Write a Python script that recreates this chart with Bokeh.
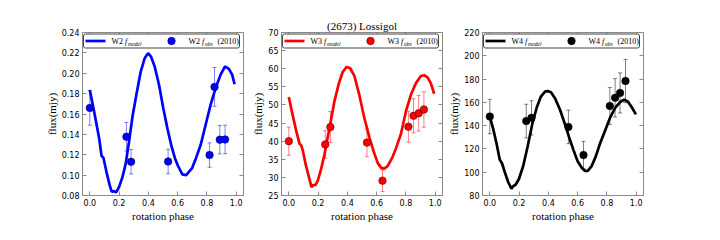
from bokeh.plotting import figure
from bokeh.layouts import row
from bokeh.models import (FixedTicker, PrintfTickFormatter, LinearAxis, Whisker, TeeHead,
                          ColumnDataSource, BoxAnnotation, Label, Range1d)
from bokeh.embed import file_html
from bokeh.resources import INLINE

# ---------------- data ----------------
phase_ticks = [0.0, 0.2, 0.4, 0.6, 0.8, 1.0]
title_text = "(2673) Lossigol"

# W2
w2_model_phase = [0.0, 0.03, 0.064, 0.08, 0.093, 0.114, 0.136, 0.15, 0.166, 0.18, 0.2, 0.223, 0.245,
                  0.268, 0.29, 0.318, 0.348, 0.375, 0.398, 0.418, 0.443, 0.473, 0.502, 0.53, 0.559,
                  0.582, 0.602, 0.632, 0.659, 0.677, 0.7, 0.727, 0.757, 0.791, 0.825, 0.859, 0.893,
                  0.923, 0.95, 0.973, 0.989]
w2_model_flux = [0.1836, 0.162, 0.136, 0.119, 0.117, 0.103, 0.090, 0.0836, 0.0843, 0.083, 0.0885,
                 0.098, 0.111, 0.133, 0.156, 0.179, 0.2016, 0.2148, 0.2197, 0.2164, 0.2066, 0.1885,
                 0.1656, 0.1459, 0.1279, 0.1164, 0.1092, 0.1007, 0.100, 0.1033, 0.1072, 0.1174,
                 0.1295, 0.1492, 0.1689, 0.1852, 0.1984, 0.2066, 0.2043, 0.1984, 0.1892]
w2_obs_phase = [0.0, 0.25, 0.282, 0.535, 0.818, 0.852, 0.888, 0.924]
w2_obs_flux = [0.166, 0.1377, 0.1131, 0.1134, 0.1197, 0.1866, 0.1348, 0.135]
w2_obs_err = [0.017, 0.014, 0.012, 0.012, 0.012, 0.019, 0.014, 0.014]
w2_yticks = [0.08, 0.10, 0.12, 0.14, 0.16, 0.18, 0.20, 0.22, 0.24]

# W3
w3_model_phase = [0.0, 0.023, 0.05, 0.073, 0.084, 0.095, 0.118, 0.141, 0.155, 0.168, 0.182, 0.198,
                  0.22, 0.243, 0.266, 0.289, 0.311, 0.341, 0.368, 0.395, 0.418, 0.448, 0.482, 0.516,
                  0.55, 0.58, 0.607, 0.63, 0.652, 0.675, 0.705, 0.732, 0.766, 0.8, 0.834, 0.868,
                  0.902, 0.925, 0.948, 0.97, 0.993]
w3_model_flux = [52.2, 47.8, 42.9, 39.3, 38.9, 37.5, 33.1, 29.5, 27.3, 27.9, 27.9, 29.1, 32.2, 36.2,
                 41.1, 46.0, 50.9, 55.8, 59.1, 60.5, 60.2, 58.0, 52.7, 46.4, 41.1, 37.1, 34.0, 32.7,
                 32.4, 33.1, 35.3, 38.0, 42.0, 48.2, 52.8, 56.0, 58.0, 58.2, 57.6, 56.0, 53.1]
w3_obs_phase = [0.0, 0.249, 0.284, 0.534, 0.640, 0.817, 0.852, 0.887, 0.923]
w3_obs_flux = [40.0, 39.1, 43.9, 39.6, 29.1, 44.0, 47.0, 47.7, 48.75]
w3_obs_err = [3.9, 3.8, 4.3, 3.9, 3.0, 4.3, 4.7, 4.9, 4.9]
w3_yticks = [25, 30, 35, 40, 45, 50, 55, 60, 65, 70]

# W4
w4_model_phase = [0.0, 0.023, 0.046, 0.068, 0.084, 0.103, 0.126, 0.148, 0.16, 0.176, 0.199, 0.228,
                  0.258, 0.29, 0.32, 0.349, 0.377, 0.395, 0.418, 0.445, 0.479, 0.509, 0.541, 0.571,
                  0.6, 0.628, 0.651, 0.669, 0.696, 0.724, 0.753, 0.788, 0.822, 0.856, 0.89, 0.918,
                  0.943, 0.97, 0.998]
w4_model_flux = [147.8, 137.2, 124.7, 110.8, 107.5, 99.7, 91.4, 85.8, 88.1, 89.2, 94.2, 105.3,
                 121.9, 141.4, 155.3, 165.0, 169.2, 169.7, 168.6, 163.6, 153.9, 142.8, 130.3,
                 119.2, 109.4, 103.9, 101.1, 101.1, 105.3, 113.6, 124.7, 135.8, 146.9, 155.3,
                 160.3, 162.2, 160.8, 155.8, 149.7]
w4_obs_phase = [0.0, 0.249, 0.285, 0.537, 0.640, 0.820, 0.856, 0.890, 0.927]
w4_obs_flux = [147.8, 143.9, 146.7, 138.9, 114.7, 156.9, 163.9, 168.1, 178.3]
w4_obs_err = [14.8, 14.5, 14.7, 14.4, 11.8, 15.8, 16.5, 17.2, 18.6]
w4_yticks = [80, 100, 120, 140, 160, 180, 200, 220]

# ---------------- layout / style ----------------
X_RANGE = (-0.05, 1.05)
FRAME_W, FRAME_H = 161, 163
AX_COLOR = "#8a8a8a"
SERIF = "Liberation Serif"
SANS = "DejaVu Sans"


def style_axis(ax, ticks, fmt, show_labels=True):
    ax.ticker = FixedTicker(ticks=ticks)
    ax.formatter = PrintfTickFormatter(format=fmt)
    ax.major_tick_in = 4
    ax.major_tick_out = 0
    ax.minor_tick_in = 0
    ax.minor_tick_out = 0
    ax.axis_line_color = AX_COLOR
    ax.major_tick_line_color = AX_COLOR
    ax.major_label_text_font = SANS
    ax.major_label_text_color = "black"
    if show_labels:
        ax.major_label_text_font_size = "8px"
        ax.major_label_standoff = 3
    else:
        ax.major_label_text_font_size = "0px"
        ax.major_label_text_alpha = 0
        ax.major_label_standoff = 0
    ax.axis_label_text_font = SERIF
    ax.axis_label_text_font_size = "11px"
    ax.axis_label_text_font_style = "normal"
    ax.axis_label_text_color = "black"
    ax.axis_label_standoff = 1


def make_panel(band, color, edge, mx, my, ox, oy, oerr, yticks, yfmt, bl, br, title=None):
    yr = (yticks[0], yticks[-1])
    p = figure(frame_width=FRAME_W, frame_height=FRAME_H,
               x_range=Range1d(*X_RANGE), y_range=Range1d(*yr),
               output_backend="svg", toolbar_location=None,
               min_border_left=bl, min_border_right=br, min_border_top=32, min_border_bottom=29,
               x_axis_label="rotation phase", y_axis_label="flux(mjy)")
    p.grid.visible = False
    p.outline_line_color = AX_COLOR
    p.background_fill_color = "white"
    p.border_fill_color = "white"
    style_axis(p.xaxis[0], phase_ticks, "%.1f")
    style_axis(p.yaxis[0], yticks, yfmt)
    top = LinearAxis()
    style_axis(top, phase_ticks, "%.1f", show_labels=False)
    if title:
        top.axis_label = title
        top.axis_label_standoff = 1
    p.add_layout(top, "above")
    right = LinearAxis()
    style_axis(right, yticks, yfmt, show_labels=False)
    p.add_layout(right, "right")

    x0, x1 = X_RANGE
    y0, y1 = yr

    # model curve
    p.line(mx, my, line_color=color, line_width=2.7)

    # observations with error bars
    src = ColumnDataSource(dict(x=ox, y=oy,
                                upper=[v + e for v, e in zip(oy, oerr)],
                                lower=[v - e for v, e in zip(oy, oerr)]))
    p.add_layout(Whisker(source=src, base="x", upper="upper", lower="lower",
                         line_color=color, line_alpha=0.5, line_width=1,
                         upper_head=TeeHead(size=4, line_color=color, line_alpha=0.5, line_width=1),
                         lower_head=TeeHead(size=4, line_color=color, line_alpha=0.5, line_width=1)))
    p.scatter("x", "y", source=src, size=7.5, fill_color=color, line_color=edge, line_width=0.6)

    # legend (positions derived from frame pixel layout)
    sx = (x1 - x0) / FRAME_W
    sy = (y1 - y0) / FRAME_H

    def X(px):
        return x0 + px * sx

    def Y(py):
        return y1 - py * sy

    p.add_layout(BoxAnnotation(left=X(1), right=X(157), top=Y(1.5), bottom=Y(15.5),
                               fill_color="white", fill_alpha=1, line_color="#444444",
                               line_alpha=1, line_width=1, border_radius=2))
    cy = 8.5
    p.line([X(3), X(23)], [Y(cy), Y(cy)], line_color=color, line_width=2.7, level="overlay")
    p.segment([X(89)], [Y(cy - 4)], [X(89)], [Y(cy + 4)], line_color=color, line_alpha=0.5,
              line_width=1, level="overlay")
    p.scatter([X(89)], [Y(cy)], size=7.5, fill_color=color, line_color=edge, line_width=0.6,
              level="overlay")

    def lab(px, dy, text, size="8px", style="normal"):
        p.add_layout(Label(x=x0, y=y1, x_offset=px, y_offset=-cy + dy, text=text,
                           text_font=SERIF, text_font_size=size, text_font_style=style,
                           text_baseline="middle", text_align="left", text_color="black"))

    lab(29, 0, band)
    lab(42.5, 0, "f", style="italic")
    lab(45.5, -2.5, "model", size="5.5px", style="italic")
    lab(106, 0, band)
    lab(119.5, 0, "f", style="italic")
    lab(122.5, -2.5, "obs", size="5.5px", style="italic")
    lab(135, 0, "(2010)")
    return p


p1 = make_panel("W2", "#0000ff", "#00005a", w2_model_phase, w2_model_flux,
                w2_obs_phase, w2_obs_flux, w2_obs_err, w2_yticks, "%.2f", 82, 3)
p2 = make_panel("W3", "#ff0000", "#5a0000", w3_model_phase, w3_model_flux,
                w3_obs_phase, w3_obs_flux, w3_obs_err, w3_yticks, "%d", 35, 3,
                title=title_text)
p3 = make_panel("W4", "#000000", "#000000", w4_model_phase, w4_model_flux,
                w4_obs_phase, w4_obs_flux, w4_obs_err, w4_yticks, "%d", 36, 50)

layout = row(p1, p2, p3, spacing=0)
open("out.html", "w").write(file_html(layout, INLINE))
